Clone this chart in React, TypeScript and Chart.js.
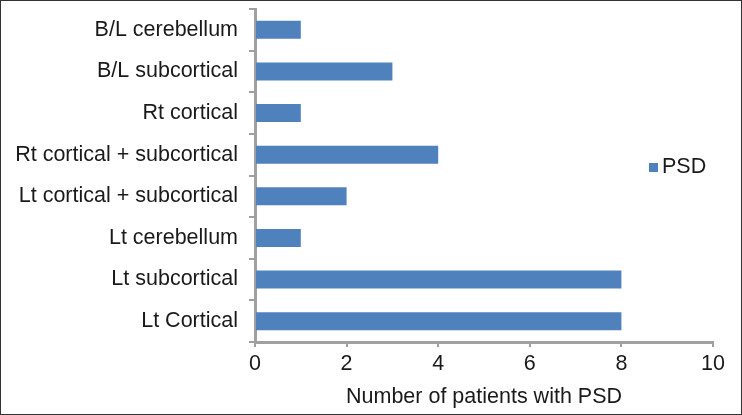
import React, { useEffect, useRef } from "react";
import { Chart, registerables } from "chart.js";

Chart.register(...registerables);

const categories = [
  "B/L cerebellum",
  "B/L subcortical",
  "Rt cortical",
  "Rt cortical + subcortical",
  "Lt cortical + subcortical",
  "Lt cerebellum",
  "Lt subcortical",
  "Lt Cortical",
];
const psdValues = [1, 3, 1, 4, 2, 1, 8, 8];
const seriesLabel = "PSD";
const axisTitle = "Number of patients with PSD";
const xMin = 0;
const xMax = 10;
const xStep = 2;

const BLUE = "#4F81BD";
const AXIS = "#A0A0A0";
const TEXT = "#1a1a1a";
const FONT = "'Liberation Sans', Arial, sans-serif";
const FS = 21.5;

const legendPlugin = {
  id: "insideLegend",
  afterDraw(chart: any) {
    const ctx = chart.ctx;
    const ds = chart.data.datasets[0];
    ctx.save();
    ctx.fillStyle = ds.backgroundColor;
    ctx.fillRect(648, 162, 9, 9);
    ctx.fillStyle = TEXT;
    ctx.font = `${FS}px ${FONT}`;
    ctx.textAlign = "left";
    ctx.textBaseline = "middle";
    ctx.fillText(ds.label, 661, 166);
    ctx.restore();
  },
};

export default function App() {
  const ref = useRef<HTMLCanvasElement | null>(null);
  useEffect(() => {
    document.body.style.margin = "0";
    const chart = new Chart(ref.current as HTMLCanvasElement, {
      type: "bar",
      data: {
        labels: categories,
        datasets: [
          {
            label: seriesLabel,
            data: psdValues,
            backgroundColor: BLUE,
            borderWidth: 0,
            barPercentage: 0.43,
            categoryPercentage: 1,
          },
        ],
      },
      plugins: [legendPlugin],
      options: {
        indexAxis: "y",
        animation: false,
        responsive: false,
        maintainAspectRatio: false,
        layout: { padding: { top: 8, right: 28, left: 0, bottom: 0 } },
        plugins: {
          legend: { display: false },
          tooltip: { enabled: false },
        },
        scales: {
          x: {
            min: xMin,
            max: xMax,
            ticks: {
              stepSize: xStep,
              color: TEXT,
              font: { size: FS, family: FONT },
              padding: 4,
            },
            grid: {
              drawOnChartArea: false,
              drawTicks: true,
              tickLength: 5,
              color: AXIS,
              lineWidth: 2,
            },
            border: { display: true, color: AXIS, width: 3 },
            title: {
              display: true,
              text: axisTitle,
              color: TEXT,
              font: { size: FS, family: FONT },
              padding: { top: 0, bottom: 4 },
            },
            afterFit: (scale: any) => {
              scale.height = 72;
              scale.paddingLeft = 0;
              scale.paddingRight = 0;
            },
          },
          y: {
            ticks: {
              color: TEXT,
              font: { size: FS, family: FONT },
              padding: 11,
            },
            grid: {
              drawOnChartArea: false,
              drawTicks: true,
              tickLength: 6,
              color: AXIS,
              lineWidth: 2,
              offset: true,
            },
            border: { display: true, color: AXIS, width: 3 },
            afterFit: (scale: any) => {
              scale.width = 254;
              scale.paddingTop = 0;
              scale.paddingBottom = 0;
            },
          },
        },
      },
    } as any);
    return () => chart.destroy();
  }, []);
  return (
    <div
      style={{
        width: 742,
        height: 415,
        boxSizing: "border-box",
        border: "1px solid #333",
        background: "#fff",
        position: "relative",
      }}
    >
      <canvas ref={ref} width={740} height={413} style={{ display: "block" }} />
    </div>
  );
}
